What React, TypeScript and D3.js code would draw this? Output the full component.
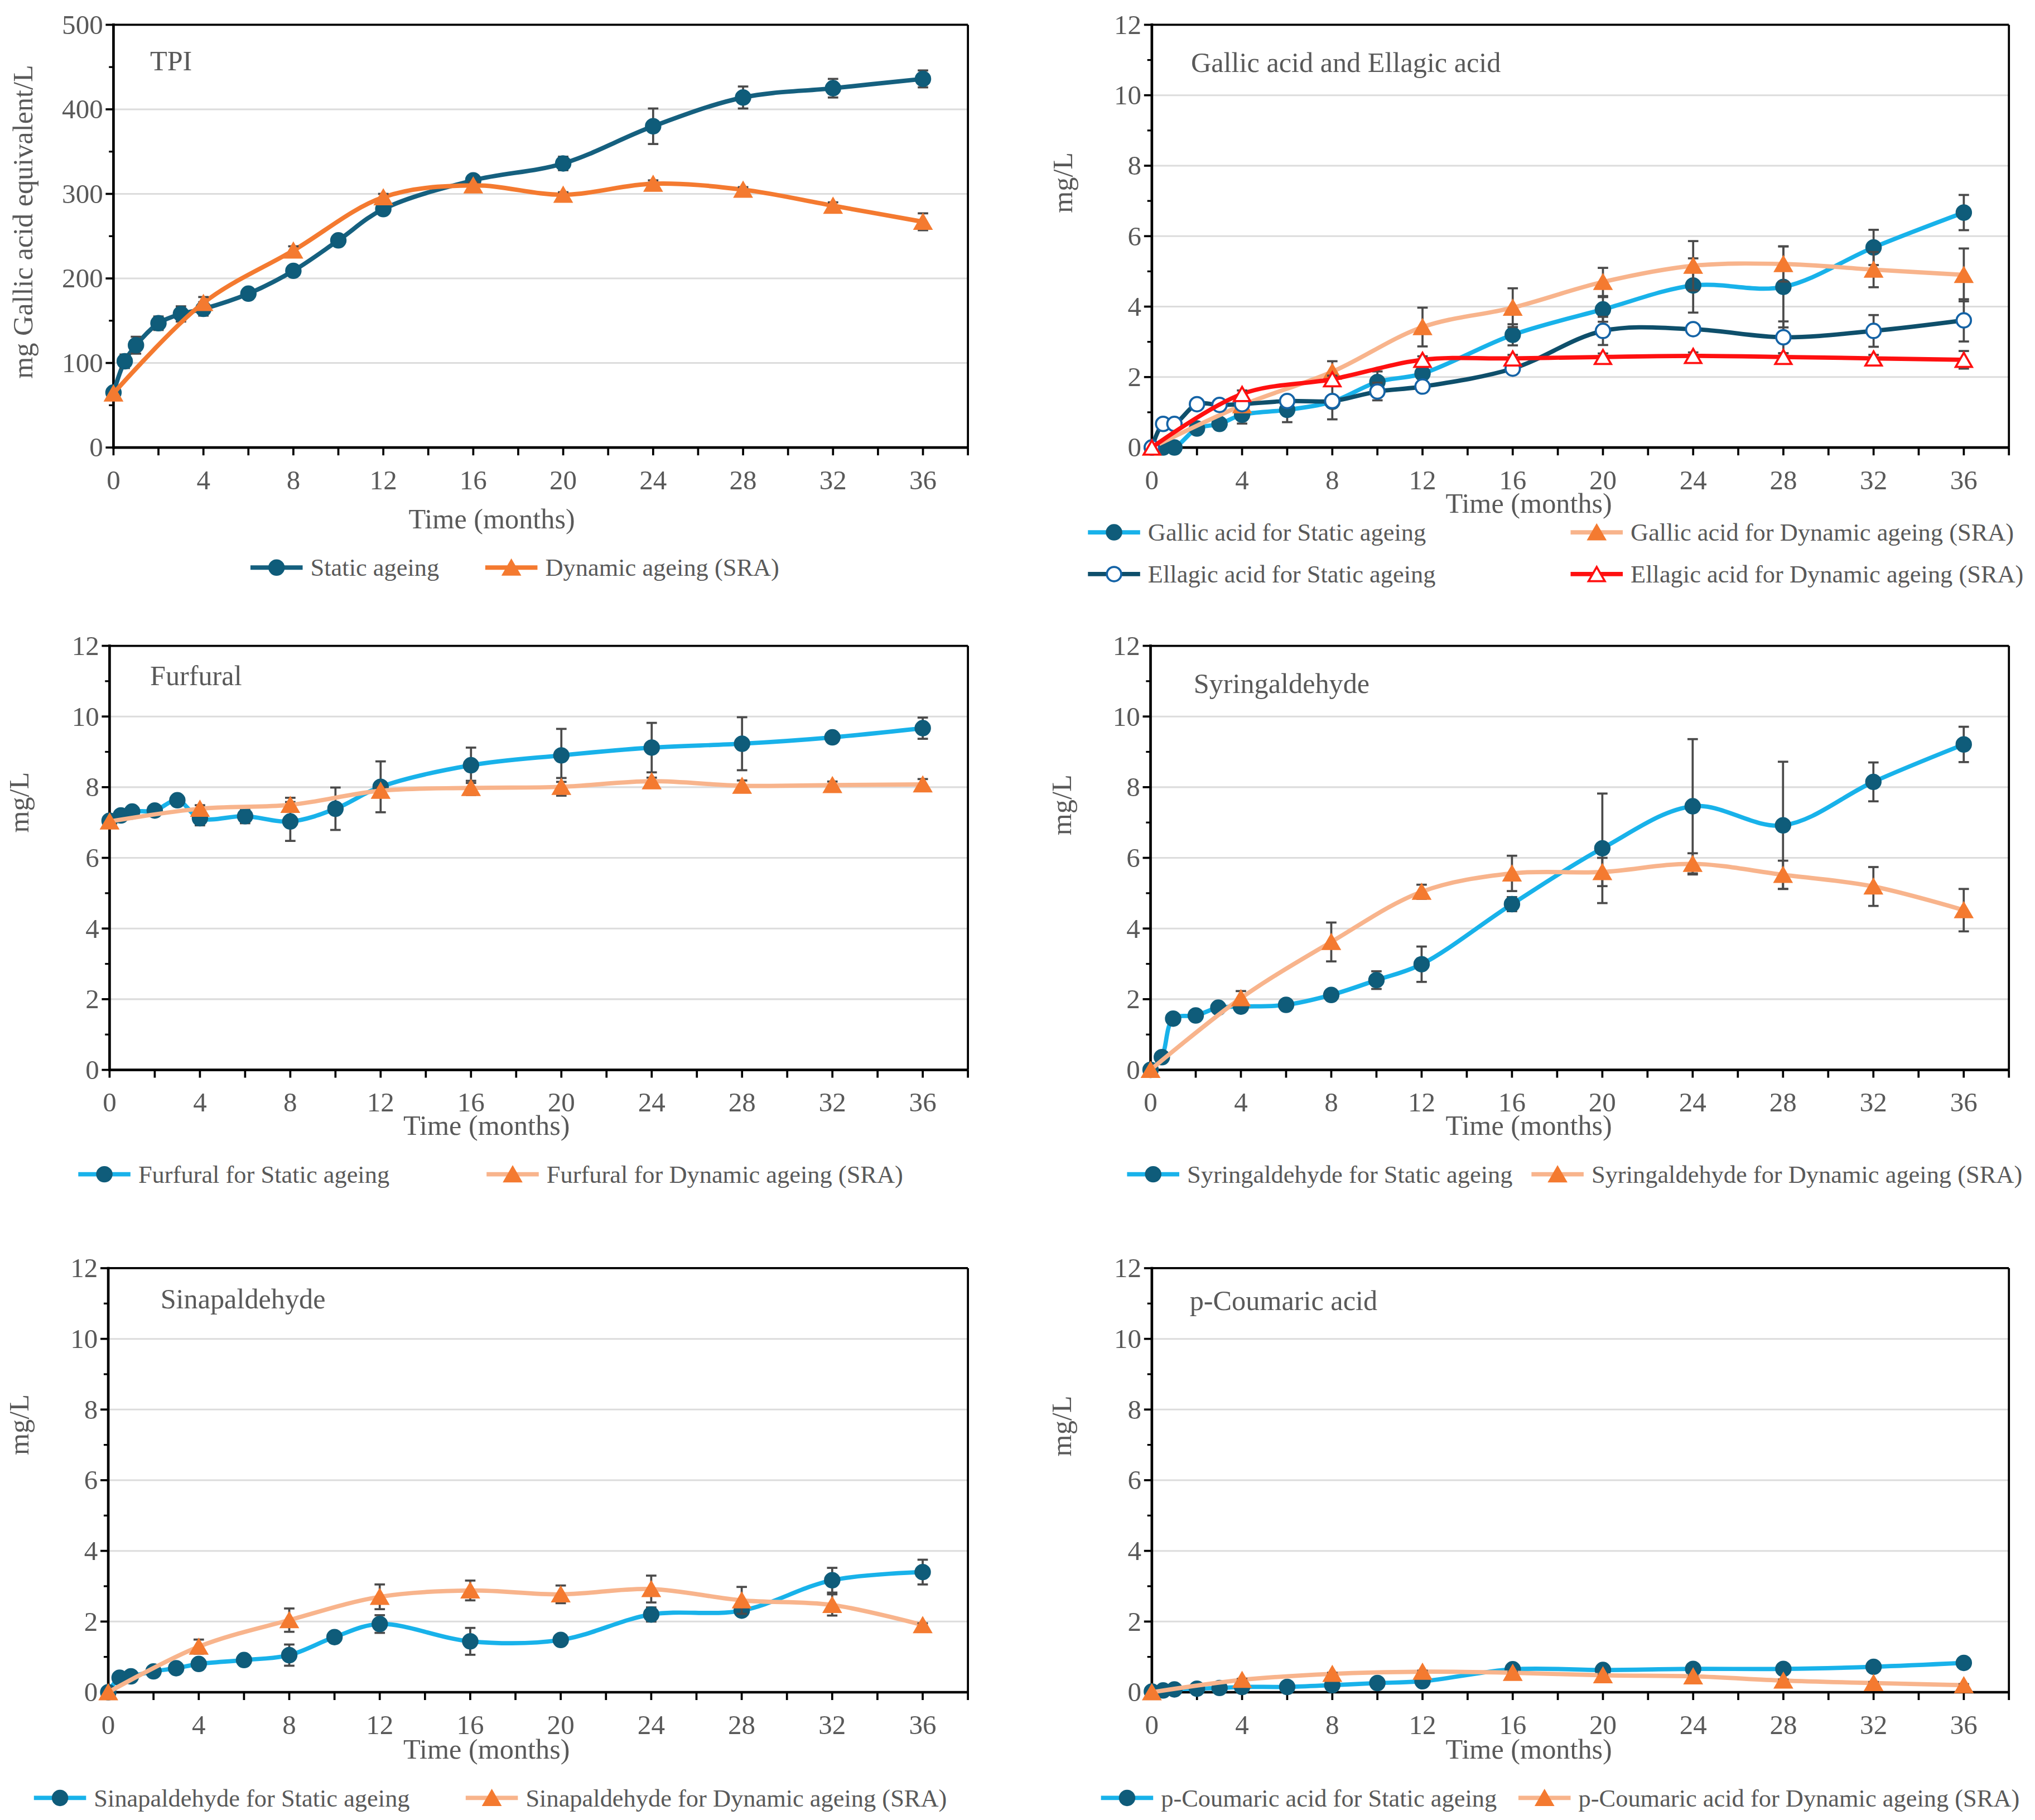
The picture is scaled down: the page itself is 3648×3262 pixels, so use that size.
import React, { useEffect } from 'react';
import * as d3 from 'd3';

const W = 3648;
const H = 3262;
const VW = 1560;
const VH = (VW * H) / W;

// ---------- DATA ----------
const timeStatic = [0, 0.5, 1, 2, 3, 4, 6, 8, 10, 12, 16, 20, 24, 28, 32, 36];
const timeDynamic = [0, 4, 8, 12, 16, 20, 24, 28, 32, 36];
const xTickLabels = [0, 4, 8, 12, 16, 20, 24, 28, 32, 36];

const tpiStatic = [65, 102, 121, 147, 158, 164, 182, 209, 245, 282, 316, 336, 380, 414, 425, 436];
const tpiStaticErr = [0, 8, 10, 8, 9, 8, 6, 5, 5, 5, 3, 8, 21, 13, 11, 10];
const tpiDynamic = [64, 171, 233, 296, 310, 299, 312, 305, 286, 267];
const tpiDynamicErr = [0, 7, 5, 4, 4, 3, 4, 3, 4, 10];

const gallicStatic = [0, 0, 0, 0.54, 0.67, 0.93, 1.07, 1.3, 1.86, 2.1, 3.2, 3.92, 4.6, 4.56, 5.68, 6.67];
const gallicStaticErr = [0, 0, 0, 0.05, 0.08, 0.25, 0.35, 0.15, 0.3, 0.15, 0.3, 0.35, 0.77, 1.15, 0.5, 0.5];
const gallicDynamic = [0, 1.2, 2.15, 3.42, 3.97, 4.7, 5.16, 5.21, 5.05, 4.9];
const gallicDynamicErr = [0, 0.1, 0.3, 0.55, 0.55, 0.4, 0.7, 0.5, 0.5, 0.75];
const ellagicStatic = [0, 0.67, 0.67, 1.23, 1.21, 1.23, 1.32, 1.32, 1.59, 1.73, 2.24, 3.31, 3.36, 3.13, 3.31, 3.61];
const ellagicStaticErr = [0, 0, 0, 0.05, 0.05, 0.1, 0.1, 0.52, 0.25, 0.15, 0.15, 0.4, 0.1, 0.45, 0.45, 0.6];
const ellagicDynamic = [0, 1.52, 1.94, 2.49, 2.53, 2.57, 2.6, 2.57, 2.53, 2.49];
const ellagicDynamicErr = [0, 0.1, 0.1, 0.1, 0.1, 0.1, 0.1, 0.1, 0.1, 0.25];

const furfuralStatic = [7.05, 7.2, 7.31, 7.34, 7.63, 7.12, 7.18, 7.03, 7.39, 8.01, 8.62, 8.9, 9.12, 9.23, 9.41, 9.67];
const furfuralStaticErr = [0, 0.1, 0.1, 0.05, 0.05, 0.2, 0.2, 0.55, 0.6, 0.72, 0.5, 0.75, 0.7, 0.75, 0.15, 0.3];
const furfuralDynamic = [7.03, 7.39, 7.5, 7.9, 7.98, 8.01, 8.17, 8.04, 8.06, 8.08];
const furfuralDynamicErr = [0, 0.1, 0.2, 0.1, 0.2, 0.25, 0.1, 0.15, 0.1, 0.15];

const syringStatic = [0, 0.36, 1.45, 1.54, 1.76, 1.79, 1.84, 2.12, 2.54, 2.99, 4.69, 6.27, 7.46, 6.92, 8.15, 9.21];
const syringStaticErr = [0, 0.05, 0.05, 0.05, 0.05, 0.05, 0.15, 0.15, 0.25, 0.5, 0.2, 1.55, 1.9, 1.8, 0.55, 0.5];
const syringDynamic = [0, 2.03, 3.62, 5.04, 5.56, 5.6, 5.83, 5.52, 5.19, 4.52];
const syringDynamicErr = [0, 0.2, 0.55, 0.2, 0.5, 0.4, 0.3, 0.4, 0.55, 0.6];

const sinapStatic = [0, 0.41, 0.45, 0.59, 0.68, 0.8, 0.91, 1.05, 1.56, 1.93, 1.44, 1.48, 2.2, 2.31, 3.17, 3.4];
const sinapStaticErr = [0, 0.05, 0.05, 0.05, 0.05, 0.15, 0.15, 0.3, 0.15, 0.25, 0.38, 0.05, 0.2, 0.05, 0.35, 0.35];
const sinapDynamic = [0, 1.29, 2.04, 2.7, 2.88, 2.77, 2.92, 2.6, 2.47, 1.9];
const sinapDynamicErr = [0, 0.2, 0.33, 0.35, 0.28, 0.25, 0.38, 0.38, 0.3, 0.05];

const coumStatic = [0.02, 0.05, 0.08, 0.1, 0.12, 0.15, 0.15, 0.2, 0.26, 0.31, 0.65, 0.63, 0.66, 0.66, 0.72, 0.83];
const coumStaticErr = [0, 0, 0, 0, 0, 0.02, 0.02, 0.03, 0.03, 0.03, 0.03, 0.03, 0.03, 0.03, 0.03, 0.03];
const coumDynamic = [0, 0.35, 0.52, 0.58, 0.55, 0.48, 0.45, 0.33, 0.26, 0.2];
const coumDynamicErr = [0, 0.03, 0.03, 0.03, 0.03, 0.03, 0.03, 0.03, 0.03, 0.03];

// ---------- STYLE ----------
const FONT = "'Liberation Serif', serif";
const TEXT = '#595959';
const TEAL = '#0f5c7a';
const TEAL_LINE = '#15607f';
const ORANGE = '#f47a30';
const PEACH = '#f8b48c';
const SKY = '#18b2ea';
const DARK_LINE = '#0e4f6b';
const OPEN_BLUE = '#1463a6';
const RED = '#ff1010';
const ERR = '#4a4a4a';
const TICK_FS = 21;
const LABEL_FS = 21.5;
const LEGEND_FS = 19;

type Series = {
  x: number[];
  y: number[];
  err: number[];
  line: string;
  lineW: number;
  marker: 'circle' | 'triangle';
  fill: string;
  stroke: string;
  label: string;
};

type PanelProps = {
  box: { l: number; r: number; t: number; b: number };
  yMax: number;
  yStep: number;
  yMinor: number;
  title: string;
  titlePos: [number, number];
  yLabel: string;
  yLabelPos: [number, number];
  xTitlePos: [number, number];
  series: Series[];
  legend: { x: number; y: number; s: number }[];
};

const txtStyle: React.CSSProperties = { fontFamily: FONT };

function markerEl(kind: 'circle' | 'triangle', cx: number, cy: number, fill: string, stroke: string, key?: string) {
  if (kind === 'circle') {
    return <circle key={key} cx={cx} cy={cy} r={5.5} fill={fill} stroke={stroke} strokeWidth={1.6} />;
  }
  const s = 12.5;
  const h = s * 0.866;
  const d = `M${cx},${cy - h / 2}L${cx + s / 2},${cy + h / 2}L${cx - s / 2},${cy + h / 2}Z`;
  return <path key={key} d={d} fill={fill} stroke={stroke} strokeWidth={1.6} strokeLinejoin="miter" />;
}

function Panel(p: PanelProps) {
  const x = d3.scaleLinear().domain([0, 38]).range([p.box.l, p.box.r]);
  const y = d3.scaleLinear().domain([0, p.yMax]).range([p.box.b, p.box.t]);
  const lineGen = d3
    .line<[number, number]>()
    .x((d) => x(d[0]))
    .y((d) => y(d[1]))
    .curve(d3.curveCatmullRom.alpha(0.5));

  const majors = d3.range(0, p.yMax + 1e-9, p.yStep);
  const minors = d3.range(0, p.yMax + 1e-9, p.yMinor).filter((v) => Math.abs(v / p.yStep - Math.round(v / p.yStep)) > 1e-6);
  const xTicks = d3.range(0, 38.001, 2);

  return (
    <g>
      {majors
        .filter((v) => v > 0 && v < p.yMax)
        .map((v) => (
          <line key={'g' + v} x1={p.box.l} x2={p.box.r} y1={y(v)} y2={y(v)} stroke="#dcdcdc" strokeWidth={1.3} />
        ))}
      <line x1={p.box.l} x2={p.box.r} y1={p.box.t} y2={p.box.t} stroke="#000" strokeWidth={1.6} />
      <line x1={p.box.r} x2={p.box.r} y1={p.box.t} y2={p.box.b} stroke="#000" strokeWidth={1.6} />
      <line x1={p.box.l} x2={p.box.l} y1={p.box.t - 1} y2={p.box.b + 1} stroke="#000" strokeWidth={2} />
      <line x1={p.box.l} x2={p.box.r} y1={p.box.b} y2={p.box.b} stroke="#000" strokeWidth={2} />
      {majors.map((v) => (
        <g key={'ym' + v}>
          <line x1={p.box.l - 6} x2={p.box.l} y1={y(v)} y2={y(v)} stroke="#000" strokeWidth={1.6} />
          <text x={p.box.l - 8} y={y(v) + 7} textAnchor="end" fontSize={TICK_FS} fill={TEXT} style={txtStyle}>
            {v}
          </text>
        </g>
      ))}
      {minors.map((v) => (
        <line key={'yn' + v} x1={p.box.l - 3.5} x2={p.box.l} y1={y(v)} y2={y(v)} stroke="#000" strokeWidth={1.4} />
      ))}
      {xTicks.map((v) => (
        <line key={'xt' + v} x1={x(v)} x2={x(v)} y1={p.box.b} y2={p.box.b + 6} stroke="#000" strokeWidth={1.6} />
      ))}
      {xTickLabels.map((v) => (
        <text key={'xl' + v} x={x(v)} y={p.box.b + 32} textAnchor="middle" fontSize={TICK_FS} fill={TEXT} style={txtStyle}>
          {v}
        </text>
      ))}
      <text x={p.xTitlePos[0]} y={p.xTitlePos[1]} textAnchor="middle" fontSize={LABEL_FS} fill={TEXT} style={txtStyle}>
        Time (months)
      </text>
      <text
        transform={`translate(${p.yLabelPos[0]},${p.yLabelPos[1]}) rotate(-90)`}
        textAnchor="middle"
        fontSize={LABEL_FS}
        fill={TEXT}
        style={txtStyle}
      >
        {p.yLabel}
      </text>
      <text x={p.titlePos[0]} y={p.titlePos[1]} fontSize={LABEL_FS} fill={TEXT} style={txtStyle}>
        {p.title}
      </text>
      {p.series.map((s, si) => {
        const pts = s.x.map((xv, i) => [xv, s.y[i]] as [number, number]);
        return (
          <g key={'s' + si}>
            <path d={lineGen(pts) || ''} fill="none" stroke={s.line} strokeWidth={s.lineW} strokeLinejoin="round" />
            {pts.map((d, i) =>
              s.err[i] > 0 ? (
                <g key={'e' + i} stroke={ERR} strokeWidth={1.6}>
                  <line x1={x(d[0])} x2={x(d[0])} y1={y(d[1] - s.err[i])} y2={y(d[1] + s.err[i])} />
                  <line x1={x(d[0]) - 4} x2={x(d[0]) + 4} y1={y(d[1] - s.err[i])} y2={y(d[1] - s.err[i])} />
                  <line x1={x(d[0]) - 4} x2={x(d[0]) + 4} y1={y(d[1] + s.err[i])} y2={y(d[1] + s.err[i])} />
                </g>
              ) : null
            )}
            {pts.map((d, i) => markerEl(s.marker, x(d[0]), y(d[1]), s.fill, s.stroke, 'm' + i))}
          </g>
        );
      })}
      {p.legend.map((lg, li) => {
        const s = p.series[lg.s];
        return (
          <g key={'lg' + li}>
            <line x1={lg.x} x2={lg.x + 40} y1={lg.y} y2={lg.y} stroke={s.line} strokeWidth={s.lineW} />
            {markerEl(s.marker, lg.x + 20, lg.y, s.fill, s.stroke)}
            <text x={lg.x + 46} y={lg.y + 6.5} fontSize={LEGEND_FS} fill={TEXT} style={txtStyle}>
              {s.label}
            </text>
          </g>
        );
      })}
    </g>
  );
}

function pair(name: string, st: number[], stE: number[], dy: number[], dyE: number[]): Series[] {
  return [
    { x: timeStatic, y: st, err: stE, line: SKY, lineW: 3.3, marker: 'circle', fill: TEAL, stroke: TEAL, label: `${name} for Static ageing` },
    { x: timeDynamic, y: dy, err: dyE, line: PEACH, lineW: 3.3, marker: 'triangle', fill: ORANGE, stroke: ORANGE, label: `${name} for Dynamic ageing (SRA)` },
  ];
}

export default function App() {
  useEffect(() => {
    document.body.style.margin = '0';
  }, []);

  const tpiSeries: Series[] = [
    { x: timeStatic, y: tpiStatic, err: tpiStaticErr, line: TEAL_LINE, lineW: 3.4, marker: 'circle', fill: TEAL, stroke: TEAL, label: 'Static ageing' },
    { x: timeDynamic, y: tpiDynamic, err: tpiDynamicErr, line: ORANGE, lineW: 3.4, marker: 'triangle', fill: ORANGE, stroke: ORANGE, label: 'Dynamic ageing (SRA)' },
  ];
  const gallicSeries: Series[] = [
    ...pair('Gallic acid', gallicStatic, gallicStaticErr, gallicDynamic, gallicDynamicErr),
    { x: timeStatic, y: ellagicStatic, err: ellagicStaticErr, line: DARK_LINE, lineW: 3.3, marker: 'circle', fill: '#ffffff', stroke: OPEN_BLUE, label: 'Ellagic acid for Static ageing' },
    { x: timeDynamic, y: ellagicDynamic, err: ellagicDynamicErr, line: RED, lineW: 3.3, marker: 'triangle', fill: '#ffffff', stroke: RED, label: 'Ellagic acid for Dynamic ageing (SRA)' },
  ];

  return (
    <svg
      width={W}
      height={H}
      viewBox={`0 0 ${VW} ${VH}`}
      style={{ position: 'absolute', left: 0, top: 0, background: '#fff', fontFamily: FONT }}
    >
      <rect x={0} y={0} width={VW} height={VH} fill="#fff" />
      <Panel
        box={{ l: 87, r: 742, t: 19, b: 343 }}
        yMax={500}
        yStep={100}
        yMinor={50}
        title="TPI"
        titlePos={[115, 54]}
        yLabel="mg Gallic acid equivalent/L"
        yLabelPos={[25, 170]}
        xTitlePos={[377, 405]}
        series={tpiSeries}
        legend={[
          { x: 192, y: 435, s: 0 },
          { x: 372, y: 435, s: 1 },
        ]}
      />
      <Panel
        box={{ l: 883, r: 1540, t: 19, b: 343 }}
        yMax={12}
        yStep={2}
        yMinor={1}
        title="Gallic acid and Ellagic acid"
        titlePos={[913, 55]}
        yLabel="mg/L"
        yLabelPos={[822, 140]}
        xTitlePos={[1172, 393]}
        series={gallicSeries}
        legend={[
          { x: 834, y: 408, s: 0 },
          { x: 1204, y: 408, s: 1 },
          { x: 834, y: 440, s: 2 },
          { x: 1204, y: 440, s: 3 },
        ]}
      />
      <Panel
        box={{ l: 84, r: 742, t: 495, b: 820 }}
        yMax={12}
        yStep={2}
        yMinor={1}
        title="Furfural"
        titlePos={[115, 525]}
        yLabel="mg/L"
        yLabelPos={[22, 615]}
        xTitlePos={[373, 870]}
        series={pair('Furfural', furfuralStatic, furfuralStaticErr, furfuralDynamic, furfuralDynamicErr)}
        legend={[
          { x: 60, y: 900, s: 0 },
          { x: 373, y: 900, s: 1 },
        ]}
      />
      <Panel
        box={{ l: 882, r: 1540, t: 495, b: 820 }}
        yMax={12}
        yStep={2}
        yMinor={1}
        title="Syringaldehyde"
        titlePos={[915, 531]}
        yLabel="mg/L"
        yLabelPos={[821, 617]}
        xTitlePos={[1172, 870]}
        series={pair('Syringaldehyde', syringStatic, syringStaticErr, syringDynamic, syringDynamicErr)}
        legend={[
          { x: 864, y: 900, s: 0 },
          { x: 1174, y: 900, s: 1 },
        ]}
      />
      <Panel
        box={{ l: 83, r: 742, t: 972, b: 1297 }}
        yMax={12}
        yStep={2}
        yMinor={1}
        title="Sinapaldehyde"
        titlePos={[123, 1003]}
        yLabel="mg/L"
        yLabelPos={[22, 1092]}
        xTitlePos={[373, 1348]}
        series={pair('Sinapaldehyde', sinapStatic, sinapStaticErr, sinapDynamic, sinapDynamicErr)}
        legend={[
          { x: 26, y: 1378, s: 0 },
          { x: 357, y: 1378, s: 1 },
        ]}
      />
      <Panel
        box={{ l: 883, r: 1540, t: 972, b: 1297 }}
        yMax={12}
        yStep={2}
        yMinor={1}
        title="p-Coumaric acid"
        titlePos={[912, 1004]}
        yLabel="mg/L"
        yLabelPos={[821, 1093]}
        xTitlePos={[1172, 1348]}
        series={pair('p-Coumaric acid', coumStatic, coumStaticErr, coumDynamic, coumDynamicErr)}
        legend={[
          { x: 844, y: 1378, s: 0 },
          { x: 1164, y: 1378, s: 1 },
        ]}
      />
    </svg>
  );
}
